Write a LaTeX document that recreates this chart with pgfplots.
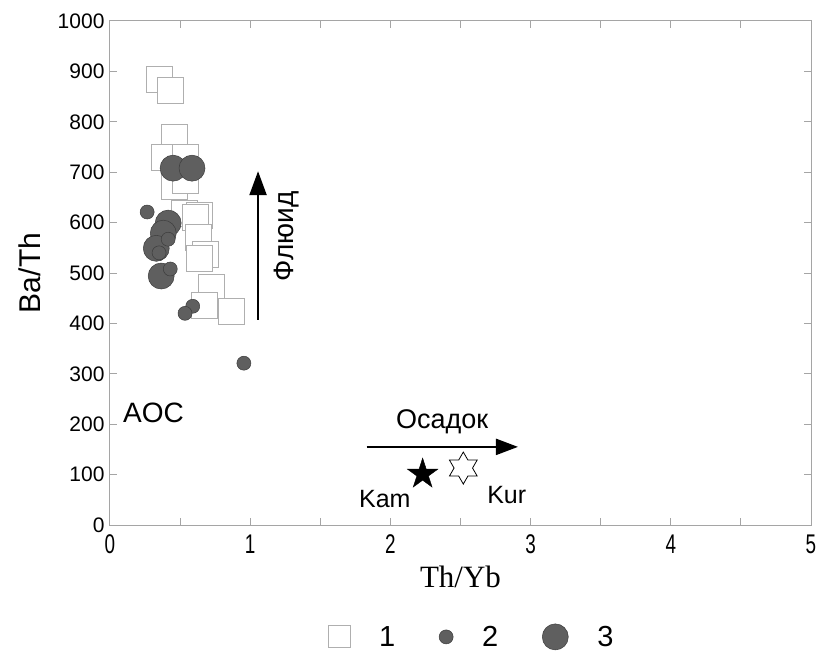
\documentclass[border=0pt]{standalone}
\usepackage{pgfplots}
\pgfplotsset{compat=1.18}
\usepackage{fontspec}
\setmainfont{Liberation Sans}
\newfontfamily\serif{Liberation Serif}
\usetikzlibrary{arrows.meta}

\definecolor{axgray}{RGB}{165,165,165}
\definecolor{sqgray}{RGB}{175,175,175}
\definecolor{dotfill}{RGB}{95,95,95}
\definecolor{dotedge}{RGB}{60,60,60}

% filled five-point star
\pgfdeclareplotmark{fivestar}{%
  \pgfpathmoveto{\pgfqpointpolar{90}{\pgfplotmarksize}}%
  \pgfpathlineto{\pgfqpointpolar{126}{0.382\pgfplotmarksize}}%
  \pgfpathlineto{\pgfqpointpolar{162}{\pgfplotmarksize}}%
  \pgfpathlineto{\pgfqpointpolar{198}{0.382\pgfplotmarksize}}%
  \pgfpathlineto{\pgfqpointpolar{234}{\pgfplotmarksize}}%
  \pgfpathlineto{\pgfqpointpolar{270}{0.382\pgfplotmarksize}}%
  \pgfpathlineto{\pgfqpointpolar{306}{\pgfplotmarksize}}%
  \pgfpathlineto{\pgfqpointpolar{342}{0.382\pgfplotmarksize}}%
  \pgfpathlineto{\pgfqpointpolar{18}{\pgfplotmarksize}}%
  \pgfpathlineto{\pgfqpointpolar{54}{0.382\pgfplotmarksize}}%
  \pgfpathclose
  \pgfusepathqfillstroke}
% six-point star outline
\pgfdeclareplotmark{sixstar}{%
  \pgfpathmoveto{\pgfqpointpolar{90}{\pgfplotmarksize}}%
  \pgfpathlineto{\pgfqpointpolar{120}{0.577\pgfplotmarksize}}%
  \pgfpathlineto{\pgfqpointpolar{150}{\pgfplotmarksize}}%
  \pgfpathlineto{\pgfqpointpolar{180}{0.577\pgfplotmarksize}}%
  \pgfpathlineto{\pgfqpointpolar{210}{\pgfplotmarksize}}%
  \pgfpathlineto{\pgfqpointpolar{240}{0.577\pgfplotmarksize}}%
  \pgfpathlineto{\pgfqpointpolar{270}{\pgfplotmarksize}}%
  \pgfpathlineto{\pgfqpointpolar{300}{0.577\pgfplotmarksize}}%
  \pgfpathlineto{\pgfqpointpolar{330}{\pgfplotmarksize}}%
  \pgfpathlineto{\pgfqpointpolar{0}{0.577\pgfplotmarksize}}%
  \pgfpathlineto{\pgfqpointpolar{30}{\pgfplotmarksize}}%
  \pgfpathlineto{\pgfqpointpolar{60}{0.577\pgfplotmarksize}}%
  \pgfpathclose
  \pgfusepathqfillstroke}

\begin{document}
\begin{tikzpicture}
\begin{axis}[
    name=ax,
    scale only axis,
    width=701pt, height=504pt,
    xmin=0, xmax=5, ymin=0, ymax=1000,
    xtick={0,1,2,3,4,5},
    minor x tick num=1,
    ytick={0,100,...,1000},
    tick align=inside,
    major tick length=7pt, minor tick length=7pt,
    axis line style={axgray, line width=1pt},
    every tick/.style={axgray, line width=1pt},
    /pgf/number format/assume math mode=true,
    /pgf/number format/1000 sep={},
    yticklabel style={font=\fontsize{21}{21}\selectfont, xshift=-2pt},
    xticklabel={\scalebox{0.7}[1]{\pgfmathprintnumber{\tick}}},
    xticklabel style={font=\fontsize{27}{27}\selectfont, yshift=-6pt},
    xlabel={\serif Th/Yb},
    xlabel style={font=\fontsize{31}{31}\selectfont, at={(axis description cs:0.5,-0.103)}, anchor=center},
    ylabel={Ba/Th},
    ylabel style={font=\fontsize{30}{30}\selectfont, at={(axis description cs:-0.114,0.5)}, anchor=center},
    legend columns=3,
    legend style={draw=none, at={(0.516,-0.222)}, anchor=center,
      font=\fontsize{29}{29}\selectfont,
      /tikz/every odd column/.append style={column sep=27pt},
      /tikz/every even column/.append style={column sep=42pt}},
    legend cell align=left,
]
\addlegendimage{only marks, mark=square*, mark size=11pt, mark options={fill=white, draw=sqgray, line width=0.8pt}}
\addlegendentry{1}
\addlegendimage{only marks, mark=*, mark size=7pt, mark options={fill=dotfill, draw=dotedge, line width=0.5pt}}
\addlegendentry{2}
\addlegendimage{only marks, mark=*, mark size=13pt, mark options={fill=dotfill, draw=dotedge, line width=0.5pt}}
\addlegendentry{3}

% 1: open squares
\addplot[forget plot, only marks, mark=square*, mark size=13pt,
  mark options={fill=white, draw=sqgray, line width=0.8pt}] coordinates {
  (0.35,885) (0.43,863) (0.46,770) (0.385,729) (0.535,730) (0.46,671)
  (0.535,684) (0.53,619) (0.64,615) (0.61,610) (0.63,571) (0.68,536)
  (0.635,528) (0.72,472) (0.67,436) (0.865,424)
};
% 3: large circles
\addplot[forget plot, only marks, mark=*, mark size=13pt,
  mark options={fill=dotfill, draw=dotedge, line width=0.5pt}] coordinates {
  (0.45,708) (0.585,708) (0.415,599) (0.38,579) (0.33,549) (0.365,494)
};
% 2: small circles
\addplot[forget plot, only marks, mark=*, mark size=7pt,
  mark options={fill=dotfill, draw=dotedge, line width=0.5pt}] coordinates {
  (0.265,621) (0.415,567) (0.35,540) (0.43,508) (0.59,434) (0.535,420) (0.955,321)
};
% reference compositions
\addplot[forget plot, only marks, mark=fivestar, mark size=16pt,
  mark options={fill=black, draw=black}] coordinates {(2.23,101)};
\addplot[forget plot, only marks, mark=sixstar, mark size=16pt,
  mark options={fill=white, draw=black, line width=0.8pt}] coordinates {(2.52,113)};

% trend arrows
\addplot[forget plot, black, line width=2.2pt, -{Triangle[length=24pt,width=17pt]}]
  coordinates {(1.056,407) (1.056,702)};
\addplot[forget plot, black, line width=2.2pt, -{Triangle[length=22pt,width=16pt]}]
  coordinates {(1.83,155) (2.91,155)};

\node[font=\fontsize{28}{28}\selectfont, rotate=90] at (axis cs:1.26,573) {Флюид};
\node[font=\fontsize{27}{27}\selectfont] at (axis cs:2.37,204) {Осадок};
\node[font=\fontsize{28}{28}\selectfont] at (axis cs:0.31,222) {AOC};
\node[font=\fontsize{25}{25}\selectfont] at (axis cs:1.96,52) {Kam};
\node[font=\fontsize{25}{25}\selectfont] at (axis cs:2.83,60) {Kur};
\end{axis}
\pgfresetboundingbox
\path ([shift={(-110pt,-129pt)}]ax.south west) rectangle ([shift={(709pt,525pt)}]ax.south west);
\end{tikzpicture}
\end{document}
